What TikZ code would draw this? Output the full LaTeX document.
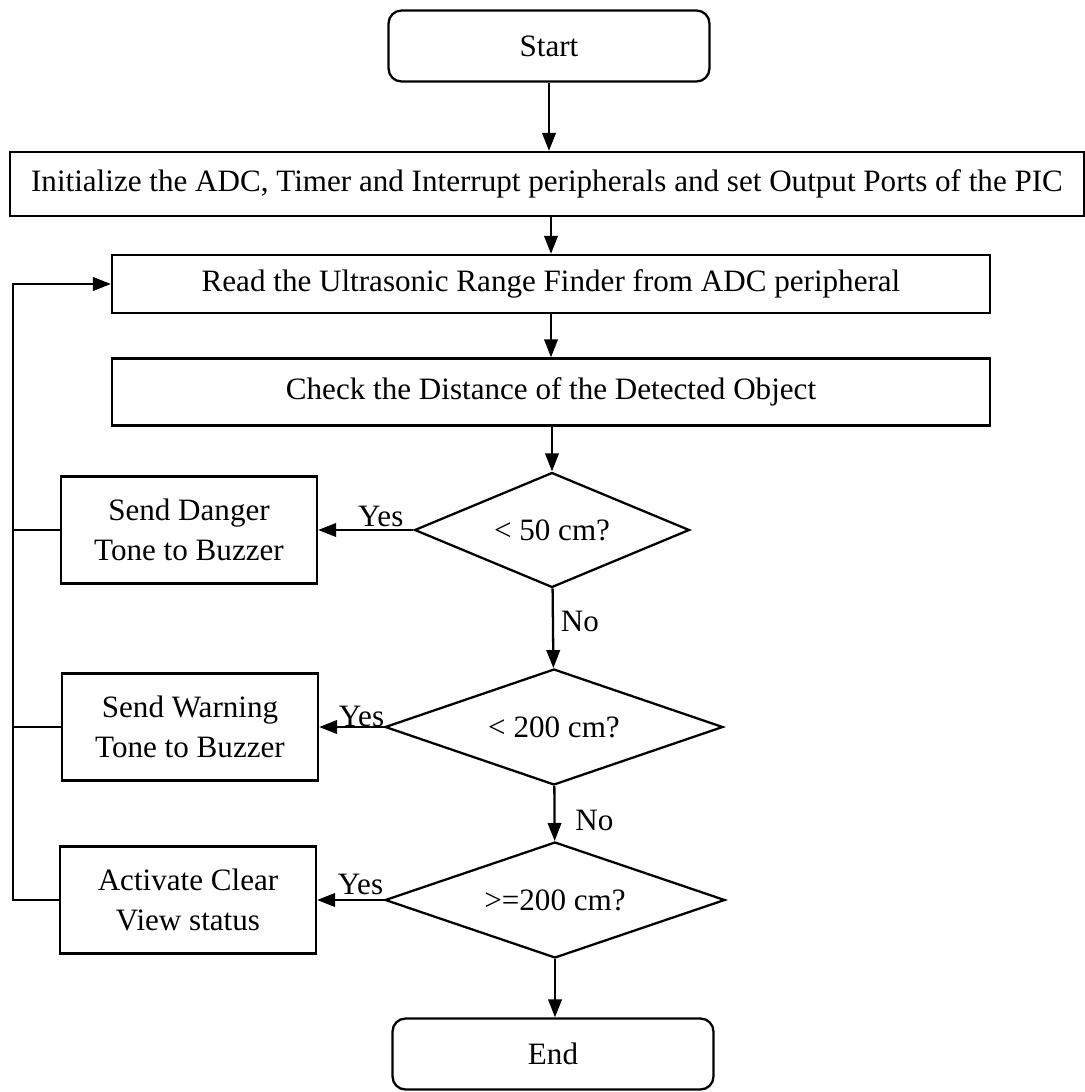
\documentclass[tikz,border=0pt]{standalone}
\usepackage{fontspec}
\setmainfont{Liberation Serif}
\usepackage{tikz}
\usetikzlibrary{shapes.geometric, arrows.meta, positioning}

\begin{document}
\begin{tikzpicture}[
  x=0.02cm, y=-0.02cm,
  line width=1.3pt,
  every node/.style={font=\fontsize{17.7}{22.7}\selectfont},
  box/.style={draw, rectangle, align=center, inner sep=2pt},
  termbox/.style={box, rounded corners=0.26cm, minimum width=6.42cm, minimum height=1.42cm},
  widebox/.style={box, minimum width=17.56cm},
  sidebox/.style={box, minimum width=5.12cm, minimum height=2.14cm},
  decision/.style={draw, diamond, aspect=3, inner sep=0pt},
  lbl/.style={inner sep=1pt},
  arr/.style={-{Triangle[length=0.36cm, width=0.27cm]}}
]
\useasboundingbox (0,0) rectangle (1085,1092);

\node[termbox] (start) at (549,46) {Start};
\node[box, minimum width=21.48cm, minimum height=1.28cm] (init) at (547,184)
  {Initialize the ADC, Timer and Interrupt peripherals and set Output Ports of the PIC};
\node[widebox, minimum height=1.16cm] (read) at (551,284) {Read the Ultrasonic Range Finder from ADC peripheral};
\node[widebox, minimum height=1.34cm] (check) at (551,392) {Check the Distance of the Detected Object};

\node[decision, minimum width=5.5cm, minimum height=2.3cm] (lt50) at (552,530) {< 50 cm?};
\node[decision, minimum width=6.76cm, minimum height=2.32cm] (lt200) at (554,727) {< 200 cm?};
\node[decision, minimum width=6.8cm, minimum height=2.32cm] (ge200) at (555,900) {>=200 cm?};
\node[termbox] (stop) at (553,1054) {End};

\node[sidebox] (danger) at (189,530) {Send Danger\\Tone to Buzzer};
\node[sidebox] (warning) at (190,727) {Send Warning\\Tone to Buzzer};
\node[sidebox] (clear) at (188,900) {Activate Clear\\View status};

\coordinate (loop) at (13,284);

% main flow
\draw[arr] (start) -- (start |- init.north);
\draw[arr] (init.south -| read) -- (read);
\draw[arr] (read) -- (check);
\draw[arr] (check.south -| lt50) -- (lt50);
\draw[arr] (lt50) -- node[lbl, pos=0.42, anchor=west, xshift=0.1cm] {No} (lt200);
\draw[arr] (lt200) -- node[lbl, pos=0.62, anchor=west, xshift=0.36cm] {No} (ge200);
\draw[arr] (ge200) -- (stop.north -| ge200);

% yes branches
\draw[arr] (lt50.west) -- node[lbl, above, xshift=0.3cm] {Yes} (danger.east);
\draw[arr] (lt200.west) -- node[lbl, above, xshift=0.2cm, yshift=-0.05cm] {Yes} (warning.east);
\draw[arr] (ge200.west) -- node[lbl, above, xshift=0.2cm, yshift=0.04cm] {Yes} (clear.east);

% back to the sensor read
\draw[arr] (danger.west) -| (loop) -- (read.west);
\draw (warning.west) -| (loop);
\draw (clear.west) -| (loop);

\end{tikzpicture}
\end{document}
